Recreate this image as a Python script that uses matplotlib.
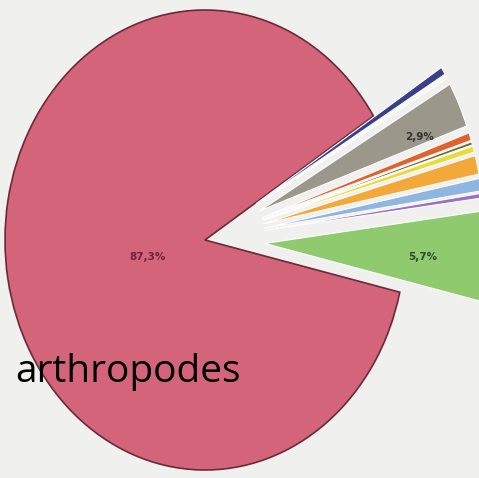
import numpy as np
import matplotlib.pyplot as plt

# slices, going counter-clockwise from the big one
labels = ['arthropodes', 'vert', 'violet', 'bleu clair', 'orange', 'jaune',
          'olive', 'rouge', 'gris', 'blanc', 'bleu fonce']
values = [87.3, 5.7, 0.3, 0.8, 1.2, 0.4, 0.2, 0.5, 2.9, 0.2, 0.5]
colors = ['#d4647a', '#8fcb6e', '#9a6fc4', '#8fb6e0', '#f2a93a', '#e8dc3c',
          '#6b6a2a', '#e0622e', '#9b978a', '#f4f4f0', '#3a3f8a']
shown = {0: '87,3%', 1: '5,7%', 8: '2,9%'}

fig = plt.figure(figsize=(4.79, 4.78), dpi=100, facecolor='#f0f0ee')
ax = fig.add_axes([0, 0, 1, 1])
ax.set_facecolor('#f0f0ee')

explode = [0] + [0.3] * (len(values) - 1)
wedges, _ = ax.pie(values, colors=colors, explode=explode, startangle=32.6,
                   counterclock=True, radius=1.0,
                   wedgeprops=dict(edgecolor='white', linewidth=0.8))
wedges[0].set_edgecolor('#6a2a38')
wedges[0].set_linewidth(1.2)
# the pulled-out slices look a bit longer in the photo
for w in wedges[1:]:
    w.set_radius(1.1)

ax.text(-0.285, -0.074, shown[0], fontsize=7.5, fontweight='bold', color='#6a2638',
        ha='center', va='center')
ax.text(1.09, -0.074, shown[1], fontsize=7.5, fontweight='bold', color='#2f4a2a',
        ha='center', va='center')
ax.text(1.075, 0.45, shown[8], fontsize=7.5, fontweight='bold', color='#333333',
        ha='center', va='center')

# the photo squashes the pie a little sideways
ax.set_aspect('auto')
ax.set_xlim(-205 / 200, 274 / 200)
ax.set_ylim(-238 / 230, 240 / 230)
ax.axis('off')

fig.text(15 / 479, 1 - 372 / 478, labels[0], fontsize=28, family='Open Sans',
         color='black', ha='left', va='center')

plt.savefig('out.png', dpi=100, facecolor=fig.get_facecolor())
